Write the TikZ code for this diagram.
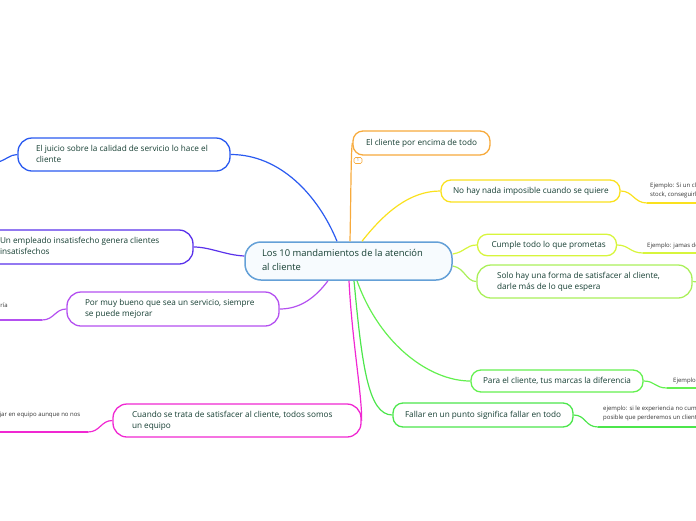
\documentclass[tikz,border=0pt]{standalone}
\usepackage{fontspec}
\setmainfont{Open Sans}
\definecolor{txt}{HTML}{163F33}
\definecolor{notetxt}{HTML}{333333}
\definecolor{cbord}{HTML}{64A0D7}
\definecolor{cfill}{HTML}{F7FBFE}
\definecolor{corange}{HTML}{F7AA3C}
\definecolor{cyellow}{HTML}{FAE11E}
\definecolor{cyg}{HTML}{D7F53C}
\definecolor{clg}{HTML}{AAF05A}
\definecolor{cg1}{HTML}{64F050}
\definecolor{cg2}{HTML}{4CE64C}
\definecolor{cblue}{HTML}{2A5AF0}
\definecolor{cindigo}{HTML}{5A32EB}
\definecolor{cpurple}{HTML}{B450F0}
\definecolor{cmag}{HTML}{F028D2}
\newcommand\ntext[2]{\makebox[#1][l]{\begin{tabular}{@{}l@{}}#2\end{tabular}}}
\begin{document}
\begin{tikzpicture}[x=1pt,y=-1pt,
  topic/.style={draw=#1, line width=1.3pt, fill=white, rounded corners=10pt, inner sep=0pt, text=txt, font=\fontsize{8.2}{11}\selectfont},
  link/.style={draw=#1, line width=1.2pt},
  under/.style={draw=#1, line width=2pt},
  note/.style={anchor=west, inner sep=0pt, text=notetxt, font=\fontsize{6}{9.5}\selectfont, align=left},
]
\useasboundingbox (0,0) rectangle (696,520);
\clip (0,0) rectangle (696,520);

% central node
\node[draw=cbord, fill=cfill, line width=1.5pt, rounded corners=16pt, inner sep=0pt,
  minimum width=207pt, minimum height=38pt, text=txt, font=\fontsize{9.4}{14}\selectfont]
  (c) at (348.5,261) {\ntext{173pt}{Los 10 mandamientos de la atención\\al cliente}};

% topics
\node[topic=corange, minimum width=137pt, minimum height=24pt] (n1) at (421.5,143)
  {\ntext{111pt}{El cliente por encima de todo}};
\node[topic=cyellow, minimum width=179pt, minimum height=22pt] (n2) at (530.5,191)
  {\ntext{155pt}{No hay nada imposible cuando se quiere}};
\node[topic=cyg, minimum width=139pt, minimum height=21.5pt] (n3) at (547,245)
  {\ntext{111pt}{Cumple todo lo que prometas}};
\node[topic=clg, rounded corners=14pt, minimum width=215pt, minimum height=33pt] (n4) at (584.5,281.5)
  {\ntext{175pt}{Solo hay una forma de satisfacer al cliente,\\darle más de lo que espera}};
\node[topic=cg1, minimum width=172pt, minimum height=22pt] (n5) at (557,381)
  {\ntext{148pt}{Para el cliente, tus marcas la diferencia}};
\node[topic=cg2, minimum width=180pt, minimum height=24pt] (n6) at (483,415)
  {\ntext{156pt}{Fallar en un punto significa fallar en todo}};
\node[topic=cblue, rounded corners=14pt, minimum width=212pt, minimum height=33pt] (n7) at (124,154.5)
  {\ntext{176pt}{El juicio sobre la calidad de servicio lo hace el\\cliente}};
\node[topic=cindigo, rounded corners=14pt, minimum width=211pt, minimum height=34pt] (n8) at (87.5,247)
  {\ntext{175pt}{Un empleado insatisfecho genera clientes\\insatisfechos}};
\node[topic=cpurple, rounded corners=14pt, minimum width=212pt, minimum height=34pt] (n9) at (173,309)
  {\ntext{176pt}{Por muy bueno que sea un servicio, siempre\\se puede mejorar}};
\node[topic=cmag, rounded corners=14pt, minimum width=248pt, minimum height=33pt] (n10) at (237,420.5)
  {\ntext{210pt}{Cuando se trata de satisfacer al cliente, todos somos\\un equipo}};

% badge
\node[draw=corange, line width=0.6pt, rounded corners=1.5pt, minimum width=8pt, minimum height=6pt,
  inner sep=0pt, font=\fontsize{4}{4}\selectfont, text=gray] (b1) at (358,160.5) {1};

% main connectors
\draw[link=cblue] ([xshift=-11.5pt]c.north) .. controls (318,195) and (280,154.5) .. (n7.east);
\draw[link=corange] ([xshift=1.5pt]c.north) .. controls (351,190) and (351,150) .. (n1.west);
\draw[link=cyellow] ([xshift=13.5pt]c.north) .. controls (385,212) and (410,191) .. (n2.west);
\draw[link=cyg] ([yshift=7pt]c.east) .. controls (465,252) and (466,245) .. (n3.west);
\draw[link=clg] ([yshift=-5pt]c.east) .. controls (465,268) and (466,281.5) .. (n4.west);
\draw[link=cg1] ([xshift=8.5pt]c.south) .. controls (380,345) and (430,381) .. (n5.west);
\draw[link=cg2] ([xshift=5.5pt]c.south) .. controls (362,365) and (368,415) .. (n6.west);
\draw[link=cmag] ([xshift=0.5pt]c.south) .. controls (352,340) and (362,395) .. (n10.east);
\draw[link=cpurple] ([xshift=-20.5pt]c.south) .. controls (315,298) and (300,309) .. (n9.east);
\draw[link=cindigo] ([yshift=5pt]c.west) .. controls (225,255) and (210,247) .. (n8.east);

% sub connectors and notes
\coordinate (e7) at (-2,162);
\draw[link=cblue] (n7.west) .. controls (10,154.5) and (6,160) .. (e7);

\coordinate (u2) at (647,203);
\draw[link=cyellow] (n2.east) .. controls (633,191) and (634,203) .. (u2);
\draw[under=cyellow] (u2) -- ++(52,0);
\node[note] (t2) at (650,190.5) {Ejemplo: Si un cliente\\stock, conseguirlo};

\coordinate (u3) at (643,253);
\draw[link=cyg] (n3.east) .. controls (629,245) and (630,253) .. (u3);
\draw[under=cyg] (u3) -- ++(56,0);
\node[note] (t3) at (647,245.5) {Ejemplo: jamas dejes};

\coordinate (e4) at (698,282);
\draw[link=clg] (n4.east) -- (e4);

\coordinate (u5) at (667,388);
\draw[link=cg1] (n5.east) .. controls (655,381) and (655,388) .. (u5);
\draw[under=cg1] (u5) -- ++(32,0);
\node[note] (t5) at (673,381) {Ejemplo: un};

\coordinate (u6) at (598,427);
\draw[link=cg2] (n6.east) .. controls (586,415) and (585,427) .. (u6);
\draw[under=cg2] (u6) -- ++(101,0);
\node[note] (t6) at (603,413.5) {ejemplo: si le experiencia no cumple\\posible que perderemos un cliente};

\coordinate (u9) at (42,320);
\draw[link=cpurple] (n9.west) .. controls (55,309) and (54,320) .. (u9);
\draw[under=cpurple] (u9) -- ++(-45,0);
\node[note, anchor=east] (t9) at (8,305) {ría};

\coordinate (u10) at (88,432);
\draw[link=cmag] (n10.west) .. controls (101,420.5) and (100,432) .. (u10);
\draw[under=cmag] (u10) -- ++(-91,0);
\node[note] (t10) at (-0.5,415.5) {jar en equipo aunque no nos};
\end{tikzpicture}
\end{document}
